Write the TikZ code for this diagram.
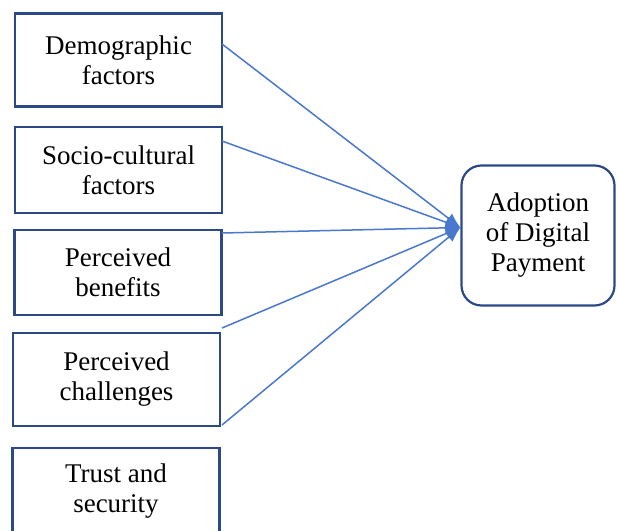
\documentclass[tikz,border=0pt]{standalone}
\usepackage{fontspec}
\setmainfont{Liberation Serif}
\usetikzlibrary{arrows.meta,calc}
\definecolor{boxnavy}{HTML}{2B4A85}
\definecolor{linkblue}{HTML}{4A78CC}
\begin{document}
\begin{tikzpicture}[x=1pt,y=-1pt,
  label text/.style={font=\fontsize{27}{30}\selectfont},
  factor/.style={label text,draw=boxnavy,line width=2.2pt,rectangle,
    minimum width=207pt,align=center,inner sep=0pt},
  outcome/.style={label text,draw=boxnavy,line width=2.2pt,rectangle,
    rounded corners=20pt,minimum width=153pt,minimum height=140pt,
    align=center,inner sep=0pt},
  link/.style={draw=linkblue,line width=1.5pt,-{Latex[length=15pt,width=12pt]}}]
\useasboundingbox (0,0) rectangle (617,530);
\clip (0,0) rectangle (617,530);
\fill[white] (0,0) rectangle (617,530);
% factor boxes
\node[factor,minimum height=93pt] (b1) at (118.5,60) {Demographic\\factors};
\node[factor,minimum height=86pt] (b2) at (118.5,170) {Socio-cultural\\factors};
\node[factor,minimum height=85pt] (b3) at (118,272.5) {Perceived\\benefits};
\node[factor,minimum height=93pt] (b4) at (116.5,379.5) {Perceived\\challenges};
\node[factor,minimum height=86pt] (b5) at (116,491) {Trust and\\security};
% outcome box
\node[outcome] (adopt) at (538,235.5) {Adoption\\of Digital\\Payment};
% connector start points on the factor side
\coordinate (s1) at (222,44);
\coordinate (s2) at (222,141);
\coordinate (s3) at (222,233);
\coordinate (s4) at (222,328);
\coordinate (s5) at (222,425);
\coordinate (tip) at ($(adopt.west)+(0,-8)$);
\foreach \s in {s1,s2,s3,s4,s5} {
  \draw[link] (\s) -- (tip);
}
\end{tikzpicture}
\end{document}
